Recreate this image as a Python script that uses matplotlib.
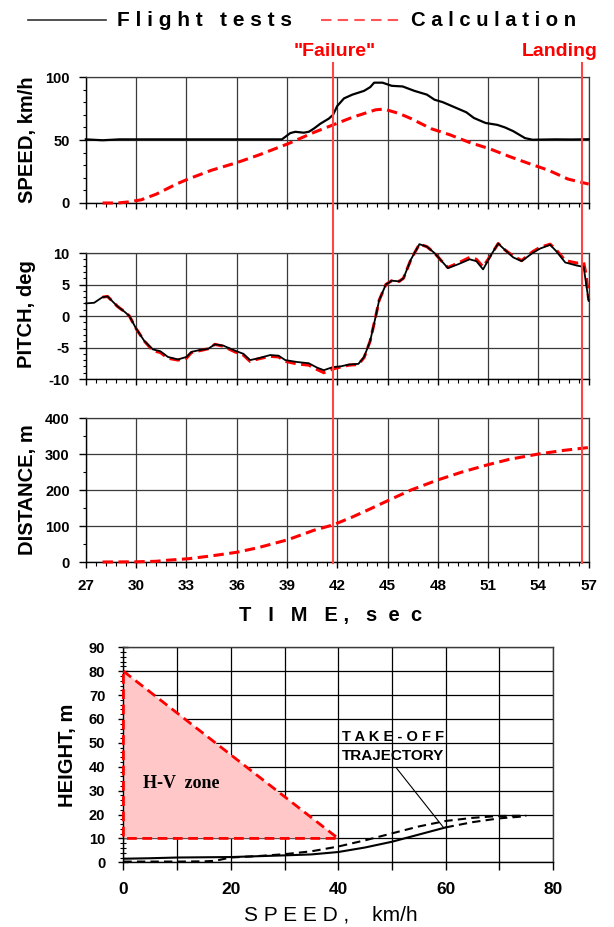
import matplotlib
matplotlib.use("Agg")
import matplotlib.pyplot as plt
from matplotlib.lines import Line2D
from matplotlib.transforms import blended_transform_factory
from matplotlib.ticker import MultipleLocator, FuncFormatter

plt.rcParams['font.family'] = ['Liberation Sans', 'DejaVu Sans']
plt.rcParams['axes.unicode_minus'] = False

# ---------------- data ----------------
speed_flight_t = [27.0, 28.0, 29.0, 30.0, 31.0, 32.0, 33.0, 34.0, 35.0, 36.0, 37.0, 38.0, 38.7,
                  39.2, 39.5, 40.0, 40.3, 40.6, 41.0, 41.5, 41.75, 42.0, 42.4, 42.9, 43.6, 43.97,
                  44.2, 44.7, 45.25, 45.9, 46.6, 47.35, 47.8, 48.3, 49.0, 49.7, 50.15, 50.85,
                  51.55, 52.0, 52.5, 53.2, 53.65, 54.0, 55.0, 56.0, 57.0]
speed_flight_v = [50.5, 49.8, 50.5, 50.5, 50.5, 50.5, 50.5, 50.5, 50.5, 50.5, 50.5, 50.5, 50.5,
                  55.5, 56.5, 55.8, 56.5, 59.0, 63.0, 67.0, 70.0, 77.0, 83.0, 86.0, 89.0, 92.0,
                  95.5, 95.5, 93.0, 92.5, 89.0, 86.0, 82.0, 80.0, 76.0, 72.0, 67.5, 63.5,
                  62.0, 60.0, 57.0, 51.5, 50.2, 50.3, 50.5, 50.4, 50.6]

speed_calc_t = [28.0, 28.9, 29.5, 30.3, 31.2, 32.4, 33.1, 34.5, 36.0, 37.3, 39.06, 40.6, 41.75,
                42.9, 44.3, 44.8, 45.7, 46.4, 47.6, 48.75, 49.9, 51.1, 52.25, 53.4, 54.6, 55.76, 57.0]
speed_calc_v = [0, 0, 0.8, 2.5, 7, 15, 19, 26, 32, 38, 47, 56, 62,
                68, 74, 74.5, 71, 67, 59, 54, 48, 43, 37, 31.5, 26, 19, 15]

pitch_flight_t = [27.0, 27.5, 28.0, 28.3, 28.6, 28.9, 29.3, 29.6, 30.0, 30.5, 31.0, 31.45, 31.9,
                  32.5, 33.0, 33.3, 33.8, 34.3, 34.7, 35.2, 35.9, 36.4, 36.8, 37.3, 38.0, 38.5,
                  38.9, 39.6, 40.3, 40.8, 41.2, 41.75, 42.2, 42.7, 43.26, 43.6, 43.96, 44.3,
                  44.5, 44.9, 45.25, 45.7, 45.95, 46.4, 46.9, 47.35, 47.8, 48.3, 48.6, 49.2,
                  49.9, 50.3, 50.7, 51.2, 51.6, 52.0, 52.5, 53.0, 53.65, 54.1, 54.7, 55.06,
                  55.6, 56.3, 56.7, 56.85, 57.0]
pitch_flight_v = [2.0, 2.1, 3.0, 3.1, 2.3, 1.5, 0.7, 0.0, -2.0, -4.0, -5.3, -5.6, -6.5,
                  -6.9, -6.5, -5.7, -5.4, -5.2, -4.5, -4.7, -5.5, -6.0, -7.0, -6.7, -6.2, -6.3,
                  -7.0, -7.3, -7.5, -8.2, -8.6, -8.1, -8.0, -7.7, -7.6, -6.5, -4.0, 0.0,
                  2.5, 5.0, 5.6, 5.5, 6.0, 9.0, 11.4, 11.0, 10.0, 8.5, 7.6, 8.2,
                  9.0, 8.7, 7.4, 9.8, 11.5, 10.5, 9.3, 8.7, 10.0, 10.7, 11.3, 10.3,
                  8.5, 8.0, 7.8, 5.0, 2.4]

pitch_calc_t = [28.0, 28.3, 28.6, 28.9, 29.3, 29.6, 30.0, 30.5, 31.0, 31.45, 31.9,
                32.5, 33.0, 33.3, 33.8, 34.3, 34.7, 35.2, 35.9, 36.4, 36.8, 37.3, 38.0, 38.5,
                38.9, 39.6, 40.3, 40.8, 41.2, 41.75, 42.2, 42.7, 43.26, 43.6, 43.96, 44.3,
                44.5, 44.9, 45.25, 45.7, 45.95, 46.4, 46.9, 47.35, 47.8, 48.3, 48.6, 49.2,
                49.9, 50.3, 50.7, 51.2, 51.6, 52.0, 52.5, 53.0, 53.65, 54.1, 54.7, 55.06,
                55.6, 56.3, 56.7, 56.85, 57.0]
pitch_calc_v = [3.0, 3.1, 2.3, 1.5, 0.7, 0.0, -2.0, -4.0, -5.5, -5.8, -6.7,
                -7.0, -6.7, -5.8, -5.5, -5.2, -4.5, -4.8, -5.7, -6.2, -7.2, -6.8, -6.4, -6.5,
                -7.2, -7.6, -7.8, -8.5, -9.0, -8.4, -8.1, -7.8, -7.7, -6.6, -4.0, 0.0,
                2.5, 5.0, 5.6, 5.5, 6.0, 9.0, 11.4, 11.0, 10.0, 8.5, 7.7, 8.4,
                9.3, 9.0, 7.8, 9.8, 11.5, 10.5, 9.5, 8.8, 10.2, 10.9, 11.4, 10.5,
                8.8, 8.4, 8.5, 6.5, 2.5]

dist_calc_t = [28.0, 30.0, 31.2, 31.9, 33.1, 34.5, 36.0, 37.3, 39.06, 40.6, 41.75, 42.9, 43.85,
               45.0, 46.4, 48.0, 49.45, 50.97, 52.25, 54.0, 55.5, 57.0]
dist_calc_v = [0, 0.5, 2, 5, 9, 17, 27, 40, 62, 88, 103, 125, 145,
               170, 200, 228, 250, 270, 285, 300, 310, 318]

event_times = [41.75, 56.63]
event_labels = ['"Failure"', 'Landing']

hv_zone_speed = [0, 40, 0]
hv_zone_height = [80, 10, 10]

traj_solid_speed = [0, 5, 10, 20, 30, 35, 40, 45, 50, 55, 60]
traj_solid_height = [1.5, 1.7, 2.0, 2.2, 2.9, 3.3, 4.3, 6.2, 8.6, 11.6, 14.6]
traj_dash1_speed = [0, 5, 10, 15, 17, 20, 25, 30, 35, 40, 45, 50, 55, 60, 65, 70, 75]
traj_dash1_height = [0.3, 0.3, 0.3, 0.4, 0.6, 2.0, 2.6, 3.4, 4.6, 6.6, 9.2, 12.1, 15.0, 17.3, 18.6, 19.4, 19.5]
traj_dash2_speed = [60, 65, 70, 75]
traj_dash2_height = [14.6, 16.8, 18.4, 19.3]

time_ticks = [27, 30, 33, 36, 39, 42, 45, 48, 51, 54, 57]

# ---------------- figure ----------------
W, H = 614, 927
fig = plt.figure(figsize=(W / 100, H / 100), dpi=100)


def axes_px(left, top, right, bottom):
    return fig.add_axes([left / W, 1 - bottom / H, (right - left) / W, (bottom - top) / H])


def fx(x):
    return x / W


def fy(y):
    return 1 - y / H


RED = '#FF0000'
LRED = '#FF4444'
GRID = '#3a3a3a'
YTICKFS = 10.5
XTICKFS = 11


def style_axes(ax, major_y, minor_y, ylim, show_xlabels):
    ax.set_xlim(27, 57)
    ax.set_ylim(*ylim)
    ax.xaxis.set_major_locator(MultipleLocator(3))
    ax.xaxis.set_minor_locator(MultipleLocator(0.6))
    ax.yaxis.set_major_locator(MultipleLocator(major_y))
    ax.yaxis.set_minor_locator(MultipleLocator(minor_y))
    ax.grid(True, which='major', color=GRID, lw=0.9)
    ax.set_axisbelow(True)
    for s in ['top', 'right']:
        ax.spines[s].set_color(GRID)
        ax.spines[s].set_linewidth(0.9)
    for s in ['left', 'bottom']:
        ax.spines[s].set_color('black')
        ax.spines[s].set_linewidth(1.0)
    ax.tick_params(axis='x', which='major', direction='out', length=4, width=1, pad=8,
                   labelsize=XTICKFS)
    ax.tick_params(axis='x', which='minor', direction='out', length=3, width=0.8)
    ax.tick_params(axis='y', which='major', direction='out', length=5, width=1, pad=6.5,
                   labelsize=YTICKFS)
    ax.tick_params(axis='y', which='minor', direction='out', length=2.5, width=0.8)
    for lab in ax.get_yticklabels() + ax.get_xticklabels():
        lab.set_fontweight('bold')
    if not show_xlabels:
        ax.tick_params(axis='x', labelbottom=False)


ax1 = axes_px(85.8, 77, 588.7, 203)
ax2 = axes_px(85.8, 253, 588.7, 379)
ax3 = axes_px(85.8, 418, 588.7, 562)

style_axes(ax1, 50, 10, (0, 100), False)
style_axes(ax2, 5, 1, (-10, 10), False)
style_axes(ax3, 100, 50, (0, 400), True)
ax3.set_xticks(time_ticks)
for lab in ax3.get_xticklabels():
    lab.set_fontweight('bold')

dash_kw = dict(color=RED, lw=2.2, dashes=(3.4, 1.8), clip_on=False, zorder=3)
ax1.plot(speed_calc_t, speed_calc_v, **dash_kw)
ax1.plot(speed_flight_t, speed_flight_v, color='black', lw=1.6, clip_on=False, zorder=4)

ax2.plot(pitch_calc_t, pitch_calc_v, **dash_kw)
ax2.plot(pitch_flight_t, pitch_flight_v, color='black', lw=1.3, clip_on=False, zorder=4)

ax3.plot(dist_calc_t, dist_calc_v, **dash_kw)

# Event lines spanning all three panels
bt = blended_transform_factory(ax1.transData, fig.transFigure)
for t in event_times:
    fig.add_artist(Line2D([t, t], [fy(63), fy(563)], transform=bt, color=LRED, lw=1.5, zorder=5))

fig.text(fx(335), fy(52), event_labels[0], color=RED, fontsize=14, fontweight='bold',
         ha='center', va='center')
fig.text(fx(560), fy(52), event_labels[1], color=RED, fontsize=14, fontweight='bold',
         ha='center', va='center')

# Legend at top
fig.add_artist(Line2D([fx(28), fx(106)], [fy(20), fy(20)], color='#333333', lw=1.2))
fig.text(fx(117), fy(20), 'F l i g h t   t e s t s', fontsize=15, fontweight='bold',
         ha='left', va='center')
fig.add_artist(Line2D([fx(321), fx(400)], [fy(20), fy(20)], color='#FF5555', lw=1.5,
                      dashes=(5, 3)))
fig.text(fx(411), fy(20), 'C a l c u l a t i o n', fontsize=14.6, fontweight='bold',
         ha='left', va='center')

# Y labels
YLFS = 14.5
fig.text(fx(27), fy(140), 'SPEED, km/h', rotation=90, fontsize=YLFS, fontweight='bold',
         ha='center', va='center')
fig.text(fx(27), fy(314), 'PITCH, deg', rotation=90, fontsize=YLFS, fontweight='bold',
         ha='center', va='center')
fig.text(fx(27), fy(490), 'DISTANCE, m', rotation=90, fontsize=YLFS, fontweight='bold',
         ha='center', va='center')
fig.text(fx(331), fy(615), 'T   I   M   E ,   s  e  c', fontsize=14.5, fontweight='bold',
         ha='center', va='center')

# ---------------- bottom H-V panel ----------------
ax4 = axes_px(123.4, 647.3, 553, 862.3)
ax4.set_xlim(0, 80)
ax4.set_ylim(0, 90)
ax4.xaxis.set_major_locator(MultipleLocator(10))
ax4.yaxis.set_major_locator(MultipleLocator(10))
ax4.yaxis.set_minor_locator(MultipleLocator(2))
ax4.xaxis.set_major_formatter(FuncFormatter(lambda v, p: f'{int(v)}' if int(round(v)) % 20 == 0 else ''))
ax4.grid(True, which='major', color='black', lw=0.9)
ax4.set_axisbelow(True)
for s in ax4.spines.values():
    s.set_color('black')
    s.set_linewidth(1.0)
ax4.spines['top'].set_color(GRID)
ax4.spines['right'].set_color(GRID)
ax4.tick_params(axis='x', which='major', direction='out', length=6, width=1, pad=8, labelsize=12.5)
ax4.tick_params(axis='y', which='major', direction='inout', length=7, width=1, pad=9.5,
                labelsize=YTICKFS)
ax4.tick_params(axis='y', which='minor', direction='inout', length=4, width=0.8)
for lab in ax4.get_yticklabels() + ax4.get_xticklabels():
    lab.set_fontweight('bold')

ax4.fill(hv_zone_speed, hv_zone_height, color='#FFC7C7', lw=0, zorder=1)
zone_x = hv_zone_speed + [hv_zone_speed[0]]
zone_y = hv_zone_height + [hv_zone_height[0]]
ax4.plot(zone_x, zone_y, color=RED, lw=2.0, dashes=(3.5, 2.0), clip_on=False, zorder=3)
ax4.text(10.7, 33, 'H-V  zone', family=['Liberation Serif', 'DejaVu Serif'], fontsize=13,
         fontweight='bold', ha='center', va='center')

ax4.plot(traj_solid_speed, traj_solid_height, color='black', lw=1.5, zorder=4)
ax4.plot(traj_dash1_speed, traj_dash1_height, color='black', lw=1.5, dashes=(4, 2.5), zorder=4)
ax4.plot(traj_dash2_speed, traj_dash2_height, color='black', lw=1.5, dashes=(4, 2.5), zorder=4)

ax4.text(50.2, 52.5, 'T A K E - O F F', fontsize=10.5, fontweight='bold', ha='center', va='center')
ax4.text(50.2, 44.5, 'TRAJECTORY', fontsize=11, fontweight='bold', ha='center', va='center')
ax4.plot([50.9, 59.6], [39.3, 14.6], color='black', lw=0.8, zorder=4)

fig.text(fx(67), fy(755), 'HEIGHT, m', rotation=90, fontsize=YLFS, fontweight='bold',
         ha='center', va='center')
fig.text(fx(331), fy(915), 'S P E E D ,    km/h', fontsize=15, ha='center', va='center')

fig.savefig('out.png', dpi=100)
